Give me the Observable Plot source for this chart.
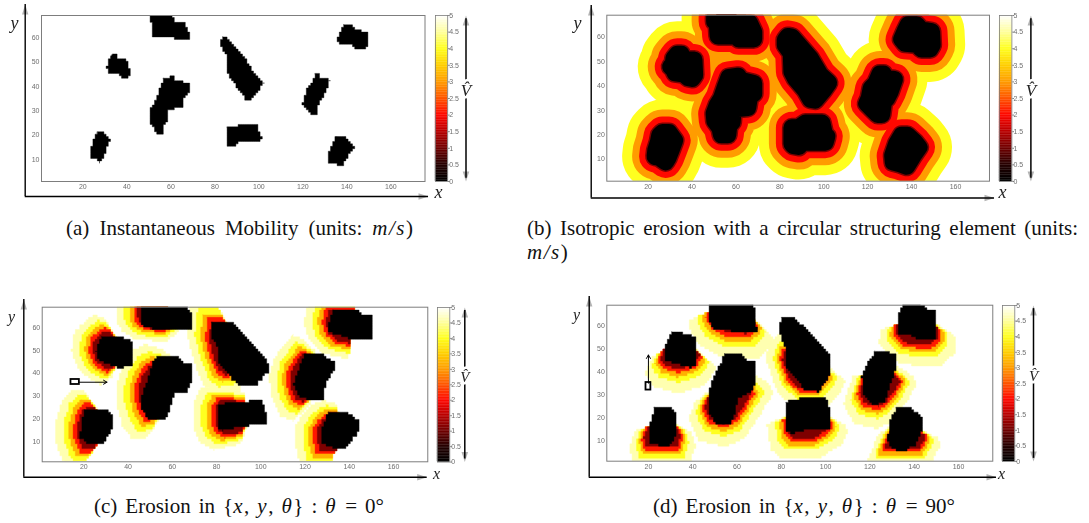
<!DOCTYPE html>
<html>
<head>
<meta charset="utf-8">
<script src="https://cdn.jsdelivr.net/npm/d3@7"></script>
<script src="https://cdn.jsdelivr.net/npm/@observablehq/plot@0.6"></script>
<style>
html,body{margin:0;padding:0;background:#fff;}
#page{position:relative;width:1089px;height:523px;overflow:hidden;}
#page>svg{position:absolute;}
.cap{position:absolute;font-family:"Liberation Serif",serif;font-size:21px;line-height:25px;color:#111;white-space:normal;text-align:justify;text-align-last:justify;}
.cap i{font-style:italic;letter-spacing:1.5px;}
svg.blurry{filter:blur(0.4px);}
</style>
</head>
<body>
<div id="page"></div>
<script>
// ---------- scales shared by all panels ----------
const xTicks = [20,40,60,80,100,120,140,160];
const yTicks = [10,20,30,40,50,60];
const barTicks = [0,0.5,1,1.5,2,2.5,3,3.5,4,4.5,5];
const xDomain = [1.2,175.5];
const yDomain = [1,69];
const hotStops  = [0,0.5,1,1.5,2,2.5,3,3.5,4,4.5,5];
const hotColors = ["#000000","#250000","#700000","#b80000","#ff0800","#ff5500","#ff9c00","#ffcf00","#ffff20","#ffff9c","#ffffff"];

// ---------- (a) instantaneous obstacles ----------
const obstaclesA = [
 [[51.5,70],[59.8,70],[62.1,66.2],[66.2,65.8],[68.1,62.1],[68.1,59.3],[61.3,59.3],[61,60.5],[51.9,60.5],[51.5,66],[50.3,66.5],[50.3,68]],
 [[33.3,53],[35.1,53],[35.9,50.9],[40.9,50.7],[41.2,44.5],[40.1,43.1],[38.3,43.4],[36.3,44.9],[32.3,45.4],[31.4,47.2],[30.3,47.9],[31.4,48.6],[31.8,51.3]],
 [[56.8,43.5],[61,44],[62.1,42.4],[68.1,41],[68.1,36.9],[66.2,35.6],[65.4,31.2],[59.8,30.7],[58.7,29.4],[58.3,25.2],[56.8,23.9],[56.3,20],[53.4,20],[52.7,22.9],[50.4,25.7],[50.1,28.7],[51.5,32.1],[53.4,34.9],[55.3,39.9]],
 [[26.5,20.9],[29.5,20.9],[32.1,17.7],[30.7,14.3],[29.2,10.8],[28,8.9],[25,10.8],[23.2,11.1],[23.5,13.6],[24.7,17],[25.3,19.8]],
 [[83.7,60.3],[85.5,60],[93.9,51.3],[98.4,44.5],[102.2,41.3],[99.9,38.3],[96.1,34.2],[94,34.5],[91.6,38.3],[87.1,43.1],[85.5,45.9],[85.2,53.4],[82.5,56.8],[82.5,58.9]],
 [[85.5,22.9],[88.6,22.9],[91.6,24.8],[99.2,24.8],[100.4,20],[101.4,19.3],[100.7,17],[90.4,17],[88.6,15.2],[86.3,15.6],[85.5,16.3]],
 [[125.6,44.9],[127.2,44.9],[128.2,43.1],[132.2,42.7],[130.2,37.6],[128.7,34.9],[127.2,33.5],[126.4,28.3],[124.6,28.3],[122.6,30.1],[119.6,32.8],[120.7,34.9],[121.6,39],[123.7,41]],
 [[138.5,65.1],[142.3,65.1],[144.3,63],[149.1,62.3],[149.4,56.8],[148.4,55.2],[144.6,55.2],[142.3,57.1],[137,57.5],[135.5,59.2],[137,62.3]],
 [[135.5,19.8],[138.1,19.8],[141.5,17],[143.4,14.9],[140.8,11.5],[137.8,7.1],[134.7,8.1],[131.7,8.8],[131.4,11.5],[133.2,16.3]]
];

// ---------- (c) theta = 0 : eroded obstacles, outer halo contours, halo centres ----------
const obstaclesC = [
 [[45.9,70],[66.2,70],[69.2,65.4],[69.2,59.3],[57.1,59.3],[47.4,60],[45.9,62.5]],
 [[27.8,56.2],[36.8,55.9],[42.1,53.7],[42.1,43.4],[36.1,42.2],[30.8,44.1],[26.3,46.3],[25.6,50]],
 [[53.1,47.1],[62.4,47.1],[65.4,44.1],[69.2,44.1],[69.2,36.8],[66.2,31.2],[60.9,30.9],[59.7,26.5],[57.4,20.1],[48.9,20.1],[45.9,25],[46.6,31.6],[49.6,39],[51.1,44.9]],
 [[20.3,24],[30.1,24],[33.4,20.6],[33.1,16.2],[29.3,9],[22.6,9],[18.5,11.8],[18.8,16.2]],
 [[78.2,62.8],[86.5,62.8],[94,55.1],[103,45.1],[103.5,40.7],[97.7,34.3],[90.2,34.3],[81.2,44.1],[80.5,51.5],[77.7,55.9]],
 [[80.5,25.7],[88,27.5],[100.8,27.8],[102.3,22.8],[102.3,17.6],[91,16.6],[82.7,14.7],[80.5,16.2]],
 [[119.8,48.1],[128.6,48.1],[129.3,46],[133.5,45.6],[133.5,41.2],[129.3,36],[128.6,28.2],[121.8,28.2],[117.3,30.1],[114.7,35.3],[117.3,41.9]],
 [[133.1,68.1],[142.1,68.1],[146.6,65.7],[150.4,65.1],[150.4,55.4],[140.6,55.1],[136.1,56.6],[130.8,58.1],[130.8,62.5]],
 [[130.8,22.8],[139.1,22.8],[144.4,18.7],[144.4,14.3],[138.3,7.1],[131.6,7.4],[127.1,9.6],[127.1,15.4]]
];
const halosC = [
 [[34.6,72],[58,72],[58,62],[63.2,59.6],[60.9,56.6],[57.1,54],[43.6,54.9],[37.1,58.8],[34.6,64]],
 [[21.1,63.2],[24.8,65.4],[29.3,64],[33.1,58.1],[34.6,55.9],[34.6,42.6],[32.3,37.5],[27.8,34.9],[22.6,37.5],[17.3,42.6],[14.6,50],[15.8,58.1]],
 [[47.4,52.5],[54.9,50.7],[60.9,46.3],[60,35],[53.4,18.4],[48.9,11.8],[42.1,10.7],[37.6,16.9],[34.6,27.2],[34.6,34.6],[37.6,43.4],[42.1,50]],
 [[15,32.8],[18.8,32.8],[22.6,28.7],[26,24],[26,10],[24,5],[19.5,-1],[12,-1],[7.2,9.6],[7.2,18.4],[10.5,28.7]],
 [[68,72],[79,72],[84,63],[90,40],[91,33],[80,31],[74.4,34.6],[70,44.9],[66.5,58.1]],
 [[72.9,33.1],[85,33.1],[92.5,31.6],[93.2,27],[94,17],[91,8.8],[79,6.2],[72.9,9.6],[69.6,15.4],[69.6,27.2]],
 [[114.3,56.6],[119.5,54.4],[124.8,49.3],[126,40],[122.6,26.5],[115,19.1],[109,21.3],[105.3,28.7],[103.8,38.2],[106,46.3],[110.5,52.2]],
 [[122,72],[142,72],[142,58],[140,53.7],[139.8,46.3],[128.6,48.5],[121.8,55.1],[119.5,63.2]],
 [[127.8,27.9],[133.8,26.5],[134.6,22.8],[136,12],[133.1,6.6],[130.8,-1],[118,-1],[115.5,9.6],[115.8,16.9],[119.5,22.8],[124,26.5]]
];
const centresC = [[57,66],[36,50],[58,33],[30,16],[90,50],[92,21],[125,38],[142,62],[138,14]];

// ---------- (d) theta = 90 ----------
const obstaclesD = [
 [[47.3,70],[67.3,70],[68.4,64.8],[68.8,57.8],[58.6,57.8],[48.8,59],[47.3,63.4]],
 [[30.8,57.2],[34.6,57.2],[41.3,54.9],[41.8,42.9],[39.8,41.8],[33.8,43.2],[27.5,45.1],[27.5,51.7],[29.3,55.3]],
 [[54.1,48],[60.9,48],[63.9,45.1],[68.4,45.1],[68.4,34.9],[66.1,31.3],[60.1,28.1],[59.4,22.5],[57.1,17.4],[50.3,17.4],[47.3,23.3],[47.3,31.3],[48.8,36.4],[51.1,41.5],[53.3,45.1]],
 [[22.6,25],[29.3,25],[32.3,21.8],[32.3,12.3],[29.3,7.2],[24.8,8],[20.6,9.4],[20.3,16],[22.3,22.5]],
 [[79.9,64.1],[84.9,64.1],[93.2,56.8],[102.2,46.6],[102.2,38.6],[96.9,31.3],[90.9,32],[82.6,42.2],[82.6,48.8],[79.3,57.5]],
 [[82.3,26.9],[88.6,28.4],[99.9,28.8],[101.9,23.3],[101.9,15.2],[90.2,14.5],[84.9,13.1],[82.3,14.5]],
 [[122.4,49.1],[126.9,49.1],[132.2,46.9],[132.2,41.5],[129.2,34.9],[126.9,26.9],[121.7,25.5],[117.2,29.8],[116.4,37.8],[118.7,43.7],[120.9,45.9]],
 [[135.2,70],[142,70],[145,67.7],[149.5,66.3],[149.5,54.6],[142.7,53.9],[138.2,56.1],[132.5,56.8],[132.5,64.1]],
 [[132.2,24],[138.2,24],[143.5,20.3],[143.5,14.5],[140.5,8],[135.2,5.3],[130,6.5],[128.2,10.1],[128.5,16],[130,21.1]]
];
const halosD = [
 [[46.3,65.5],[39.1,62.6],[38.3,59],[42.8,51.7],[52.6,46.6],[69.1,45.9],[75.1,51],[76.6,54.6],[69.9,61.2],[58,65]],
 [[27,48],[21.8,46.6],[18.3,38.6],[22.6,33.5],[33.1,30.6],[45.1,34.2],[49.6,40],[50.3,42.2],[42.1,49.5],[34,52]],
 [[47.3,31.3],[41.3,26.9],[38.3,19.6],[42.8,10.1],[54.1,7.2],[63.1,10.9],[69.1,19.6],[76.6,31.3],[73.6,35.7],[68,38.6],[55,40]],
 [[20.3,16],[14.3,14.5],[11.3,6.5],[13.5,-1],[38.3,-1],[41.3,8],[39.1,13.8],[33.1,16.7],[27,20]],
 [[80,57],[75.1,53.1],[72.9,45.9],[78.1,31.3],[87.1,23.3],[99.2,23.3],[106.7,31.3],[108.9,35.7],[102.9,41.5],[90,50]],
 [[81.1,20.3],[73.6,16.7],[75.1,6.5],[79.6,2.1],[96.2,2.1],[106.7,8],[110.1,13.8],[108.2,17.4],[102.2,20.3],[92,24]],
 [[116.4,37.8],[112.7,38.6],[108.2,25.5],[112.7,17.4],[123.2,15.2],[129.2,18.2],[136.7,26.9],[141.2,34.9],[139.7,37.8],[133,42.2],[124,42]],
 [[132.2,60.4],[125.5,58.3],[124,52.4],[130.7,44.4],[142.7,42.2],[152.5,42.9],[158.5,48.8],[158.5,55.3],[150.2,61.2],[141,63]],
 [[128.5,16],[123.9,12.3],[119.4,2.1],[119.4,-1],[146.5,-1],[152,8],[151,10.9],[144.2,14.5],[136,18]]
];
const centresD = [[58,70],[34,54],[54,30],[26,17],[90,44],[92,22],[124,37],[141,63],[136,15]];

// Halo bands: level of the map, and how far along the way to the centre each band sits
const haloLevels = [4.6,4.0,3.2,2.1,1.1];
const haloFractionsC = [1,0.84,0.73,0.64,0.56];
const haloFractionsD = [1,0.8,0.7,0.62,0.55];
// Isotropic bands in (b): level and stroke width
const ringLevels = [4,3,2,1.1];
const ringWidths = [66,46,32,20];
const blackWidthB = 17;

// ---------- layout, in page pixels ----------
const panels = [
 {frame:[41,424.5,15,181], bar:[434.5,446.7], yAxisX:24.7, xAxisY:196, yTop:4, xEnd:428, yLabel:[14,23], xLabel:[438,192], barArrow:465, fs:16, origin:[0,0]},
 {frame:[606.3,989,14.7,180.7], bar:[999.3,1011.7], yAxisX:590.7, xAxisY:197.5, yTop:5, xEnd:994, yLabel:[577,23], xLabel:[1002,192], barArrow:1030.7, fs:16, origin:[570,0]},
 {frame:[41.7,427.3,306.7,461.3], bar:[436.7,449], yAxisX:23.3, xAxisY:476.7, yTop:299, xEnd:426.7, yLabel:[11,316], xLabel:[436,473], barArrow:464, fs:14, origin:[0,295]},
 {frame:[606.3,992.3,304.7,460.7], bar:[1001.7,1014], yAxisX:588.7, xAxisY:476.7, yTop:296, xEnd:996, yLabel:[576,314], xLabel:[1001,473], barArrow:1032.7, fs:14, origin:[570,295]}
];

const colorOpts = {type:"linear", domain:hotStops, range:hotColors, clamp:true};
const gray = "#6e6e6e";
const tickFont = "Liberation Sans, Arial, sans-serif";
const page = document.getElementById("page");

// the source map is a coarse grid: a closed outline drawn as grid stairs
const cellW = 2.2, cellH = 2.43;
const gridStairs = ctx => {
  let pts = [];
  return {
    areaStart(){}, areaEnd(){},
    lineStart(){pts=[];},
    point(x,y){pts.push([+x,+y]);},
    lineEnd(){
      let started=false, px, py;
      const put=(x,y)=>{
        const sx=Math.round(x/cellW)*cellW, sy=Math.round(y/cellH)*cellH;
        if(!started){ctx.moveTo(sx,sy);started=true;}
        else if(sx!==px||sy!==py){ctx.lineTo(sx,py);ctx.lineTo(sx,sy);}
        px=sx;py=sy;
      };
      pts.forEach((p,i)=>{
        const q=pts[(i+1)%pts.length];
        const n=Math.max(1,Math.ceil(Math.hypot(q[0]-p[0],q[1]-p[1])));
        for(let k=0;k<n;k++) put(p[0]+(q[0]-p[0])*k/n,p[1]+(q[1]-p[1])*k/n);
      });
      ctx.closePath();
    }
  };
};

const rows = (polys, level) => polys.flatMap((poly,id) => poly.map(([x,y]) => ({id,x,y,level})));
const shrunk = (polys, centres, f, level) => polys.flatMap((poly,id) => {
  const [cx,cy] = centres[id];
  return poly.map(([x,y]) => ({id, x:cx+f*(x-cx), y:cy+f*(y-cy), level}));
});
const poly = (data, sw, curve=gridStairs) => Plot.line(data, {
  x:"x", y:"y", z:"id", fill:"level", stroke:"level", strokeWidth:sw,
  curve, clip:"frame", strokeLinejoin:sw>2?"round":"miter"
});

function panel(cfg, body, extra=[]) {
  const [l,r,t,b] = cfg.frame, [ox,oy] = cfg.origin;
  const width = cfg.bar[0]-ox+20, height = cfg.xAxisY-oy+12;
  const X = px => xDomain[0]+(px-l)*(xDomain[1]-xDomain[0])/(r-l);
  const Y = py => yDomain[0]+(b-py)*(yDomain[1]-yDomain[0])/(b-t);
  const plot = Plot.plot({
    width, height,
    marginLeft:l-ox, marginRight:width-(r-ox), marginTop:t-oy, marginBottom:height-(b-oy),
    x:{domain:xDomain}, y:{domain:yDomain}, color:colorOpts,
    style:{background:"transparent"},
    marks:[
      ...body,
      Plot.frame({stroke:"#7d7d7d", strokeWidth:1}),
      Plot.axisX(xTicks,{tickSize:0, tickPadding:2.5, fontSize:7, fill:gray, fontFamily:tickFont, label:null, anchor:"bottom"}),
      Plot.axisY(yTicks,{tickSize:0, tickPadding:2, fontSize:7, fill:gray, fontFamily:tickFont, label:null, anchor:"left"}),
      Plot.ruleX([0],{x:()=>X(cfg.yAxisX), y1:Y(cfg.xAxisY), y2:Y(cfg.yTop), stroke:"black", strokeWidth:1.4}),
      Plot.ruleY([0],{y:()=>Y(cfg.xAxisY), x1:X(cfg.yAxisX), x2:X(cfg.xEnd), stroke:"black", strokeWidth:1.4}),
      Plot.spike([0],{x:()=>X(cfg.yAxisX), y:()=>Y(cfg.yTop), length:10, rotate:0, r:3.2, anchor:"end", fill:"black", stroke:"none"}),
      Plot.spike([0],{x:()=>X(cfg.xEnd), y:()=>Y(cfg.xAxisY), length:10, rotate:90, r:3.2, anchor:"end", fill:"black", stroke:"none"}),
      Plot.text(["x"],{x:()=>X(cfg.xLabel[0]), y:()=>Y(cfg.xLabel[1]), text:d=>d, fontSize:cfg.fs+2, fontStyle:"italic", fontFamily:"Liberation Serif, serif", fill:"#222"}),
      Plot.text(["y"],{x:()=>X(cfg.yLabel[0]), y:()=>Y(cfg.yLabel[1]), text:d=>d, fontSize:cfg.fs+2, fontStyle:"italic", fontFamily:"Liberation Serif, serif", fill:"#222"}),
      ...extra
    ]
  });
  plot.classList.add("blurry");
  plot.style.left = ox+"px"; plot.style.top = oy+"px";
  page.appendChild(plot);
}

function colorbar(cfg) {
  const [bl,br] = cfg.bar, [,,t,b] = cfg.frame;
  const levels = d3.range(0,5,0.05);
  const width = cfg.barArrow-bl+24, left = bl-10, top = t-6;
  const X = px => (px-bl)/(br-bl);
  const plot = Plot.plot({
    width, height:b-t+12, marginLeft:10, marginRight:width-10-(br-bl), marginTop:6, marginBottom:6,
    x:{domain:[0,1], axis:null}, y:{domain:[0,5]}, color:colorOpts,
    style:{background:"transparent"},
    marks:[
      Plot.rect(levels,{x1:0,x2:1,y1:d=>d,y2:d=>d+0.05,fill:d=>d+0.025,stroke:d=>d+0.025,strokeWidth:0.3}),
      Plot.frame({stroke:"#7d7d7d", strokeWidth:0.8}),
      Plot.axisY(barTicks,{anchor:"right", tickSize:1.5, tickPadding:0, fontSize:7, fill:gray, stroke:gray, fontFamily:tickFont, label:null, tickFormat:d=>String(d)}),
      Plot.ruleX([0],{x:()=>X(cfg.barArrow), y1:0.1, y2:4.9, stroke:"black", strokeWidth:1.5}),
      Plot.spike([0],{x:()=>X(cfg.barArrow), y:()=>5, length:10, rotate:0, r:3.3, anchor:"end", fill:"black", stroke:"none"}),
      Plot.spike([0],{x:()=>X(cfg.barArrow), y:()=>0, length:10, rotate:180, r:3.3, anchor:"end", fill:"black", stroke:"none"}),
      Plot.text(["V\u0302"],{x:()=>X(cfg.barArrow), y:()=>2.75, text:d=>d, fontSize:cfg.fs+1, fontStyle:"italic", fontFamily:"Liberation Serif, serif", fill:"#222", stroke:"white", strokeWidth:5, paintOrder:"stroke"})
    ]
  });
  plot.classList.add("blurry");
  plot.style.left = left+"px"; plot.style.top = top+"px";
  page.appendChild(plot);
}

// (a)
panel(panels[0], [poly(rows(obstaclesA,0),0.4)]);
// (b)
panel(panels[1], [
  ...ringLevels.map((lv,i)=>poly(rows(obstaclesA,lv),ringWidths[i],"linear-closed")),
  poly(rows(obstaclesA,0),blackWidthB,"linear-closed")
]);
// (c)
panel(panels[2], [
  ...haloLevels.map((lv,i)=>poly(shrunk(halosC,centresC,haloFractionsC[i],lv),0.4)),
  poly(rows(obstaclesC,0),0.4)
],[
  Plot.arrow([0],{x1:()=>18,y1:()=>36,x2:()=>30.5,y2:()=>36,stroke:"black",strokeWidth:1,headLength:6}),
  Plot.rect([0],{x1:()=>14.2,x2:()=>18,y1:()=>35,y2:()=>37.2,fill:"none",stroke:"black",strokeWidth:1.8})
]);
// (d)
panel(panels[3], [
  ...haloLevels.map((lv,i)=>poly(shrunk(halosD,centresD,haloFractionsD[i],lv),0.4)),
  poly(rows(obstaclesD,0),0.4)
],[
  Plot.arrow([0],{x1:()=>20,y1:()=>35,x2:()=>20,y2:()=>47.3,stroke:"black",strokeWidth:1,headLength:6}),
  Plot.rect([0],{x1:()=>18.9,x2:()=>21.1,y1:()=>32,y2:()=>35.3,fill:"none",stroke:"black",strokeWidth:1.8})
]);
panels.forEach(colorbar);

// captions
const captions = [
 {left:66, top:216, width:347, html:"(a) Instantaneous Mobility (units: <i>m/s</i>)"},
 {left:527, top:216, width:551, html:"(b) Isotropic erosion with a circular structuring element (units:"},
 {left:527, top:240, html:"<i>m/s</i>)"},
 {left:94, top:494, width:290, html:"(c) Erosion in {<i>x</i>, <i>y</i>, <i>θ</i>} : <i>θ</i> = 0°"},
 {left:653, top:494, width:302, html:"(d) Erosion in {<i>x</i>, <i>y</i>, <i>θ</i>} : <i>θ</i> = 90°"}
];
captions.forEach(c=>{
  const d=document.createElement("div");
  d.className="cap"; d.style.left=c.left+"px"; d.style.top=c.top+"px";
  if(c.width) d.style.width=c.width+"px"; else d.style.textAlignLast="left";
  d.innerHTML=c.html;
  page.appendChild(d);
});
</script>
</body>
</html>
